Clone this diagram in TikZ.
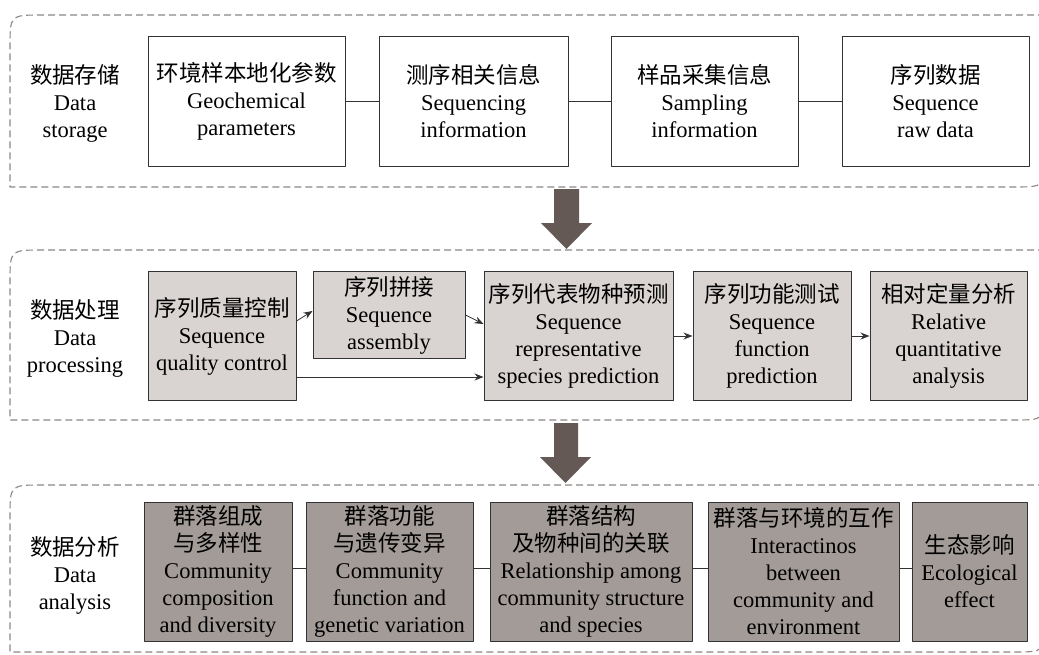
\documentclass[tikz,border=0pt]{standalone}
\usepackage{fontspec}
\setmainfont{Liberation Serif}
\newfontfamily\cjk{Noto Sans CJK SC}
\usetikzlibrary{arrows.meta}
\definecolor{panelgray}{HTML}{8E8585}
\definecolor{boxline}{HTML}{333333}
\definecolor{procfill}{HTML}{D9D3D1}
\definecolor{anafill}{HTML}{A39B98}
\definecolor{arrowfill}{HTML}{645954}

\begin{document}
\begin{tikzpicture}[x=1pt,y=-1pt,line join=round,
		every node/.style={font=\fontsize{22.5}{27}\selectfont,align=center,inner sep=0pt},
		panel/.style={draw=panelgray,line width=1.1pt,dash pattern=on 7pt off 4pt},
		storebox/.style={draw=boxline,line width=1pt,fill=white},
		procbox/.style={storebox,fill=procfill},
		anabox/.style={storebox,fill=anafill},
		link/.style={draw=boxline,line width=0.8pt},
		flow/.style={link,-{Stealth[length=9pt,width=7pt]}},
		bigarrow/.style={fill=arrowfill}]
	\useasboundingbox (0,0) rectangle (1039,654);
	\clip (0,0) rectangle (1039,654);
	% dashed stage panels
	\draw [panel] (1045,15) -- (42,15) .. controls (10,15) .. (10,47) -- (10,187) -- (1013,187) .. controls (1045,187) .. (1045,155);
	\draw [panel] (1045,250) -- (42,250) .. controls (10,250) .. (10,282) -- (10,420) -- (1013,420) .. controls (1045,420) .. (1045,388);
	\draw [panel] (1045,485) -- (42,485) .. controls (10,485) .. (10,517) -- (10,652) -- (1013,652) .. controls (1045,652) .. (1045,620);
	% big arrows between stages
	\fill [bigarrow] (554,189) -- (579,189) -- (579,223) -- (592,223) -- (566.5,249) -- (541,223) -- (554,223) -- cycle;
	\fill [bigarrow] (554,423) -- (578,423) -- (578,457) -- (591,457) -- (565.5,483) -- (540,457) -- (554,457) -- cycle;
	% data storage
	\node (storage) at (75,103) {{\cjk 数据存储}\\Data\\storage};
	\node [storebox,minimum width=197,minimum height=130] (geo) at (246.5,101) {{\cjk 环境样本地化参数}\\Geochemical\\parameters};
	\node [storebox,minimum width=189,minimum height=130] (seqinfo) at (473.5,101) {{\cjk 测序相关信息}\\Sequencing\\information};
	\node [storebox,minimum width=187,minimum height=130] (sampling) at (704.5,101) {{\cjk 样品采集信息}\\Sampling\\information};
	\node [storebox,minimum width=187,minimum height=130] (rawdata) at (935.5,101) {{\cjk 序列数据}\\Sequence\\raw data};
	\draw [link] (geo) -- (seqinfo);
	\draw [link] (seqinfo) -- (sampling);
	\draw [link] (sampling) -- (rawdata);
	% data processing
	\node (processing) at (75,338) {{\cjk 数据处理}\\Data\\processing};
	\node [procbox,minimum width=148,minimum height=129] (qc) at (222,336) {{\cjk 序列质量控制}\\Sequence\\quality control};
	\node [procbox,minimum width=152,minimum height=87] (asm) at (389,315) {{\cjk 序列拼接}\\Sequence\\assembly};
	\node [procbox,minimum width=189,minimum height=129] (pred) at (578.5,336) {{\cjk 序列代表物种预测}\\Sequence\\representative\\species prediction};
	\node [procbox,minimum width=158,minimum height=129] (func) at (772,336) {{\cjk 序列功能测试}\\Sequence\\function\\prediction};
	\node [procbox,minimum width=157,minimum height=129] (quant) at (948.5,336) {{\cjk 相对定量分析}\\Relative\\quantitative\\analysis};
	\draw [flow] ([yshift=15pt]qc.east) -- ([yshift=4pt]asm.west);
	\draw [flow] (asm.east) -- ([yshift=12pt]pred.west);
	\draw [flow] ([yshift=-41pt]qc.east) -- ([yshift=-41pt]pred.west);
	\draw [flow] (pred) -- (func);
	\draw [flow] (func) -- (quant);
	% data analysis
	\node (analysis) at (75,575) {{\cjk 数据分析}\\Data\\analysis};
	\node [anabox,minimum width=148,minimum height=139] (comp) at (218,571.5) {{\cjk 群落组成}\\{\cjk 与多样性}\\Community\\composition\\and diversity};
	\node [anabox,minimum width=167,minimum height=139] (gene) at (389.5,571.5) {{\cjk 群落功能}\\{\cjk 与遗传变异}\\Community\\function and\\genetic variation};
	\node [anabox,minimum width=202,minimum height=139] (struct) at (591,571.5) {{\cjk 群落结构}\\{\cjk 及物种间的关联}\\Relationship among\\community structure\\and species};
	\node [anabox,minimum width=191,minimum height=139] (envir) at (803.5,571.5) {{\cjk 群落与环境的互作}\\Interactinos\\between\\community and\\environment};
	\node [anabox,minimum width=115,minimum height=139] (eco) at (969.5,571.5) {{\cjk 生态影响}\\Ecological\\effect};
	\draw [link] ([yshift=3pt]comp.east) -- ([yshift=3pt]gene.west);
	\draw [link] ([yshift=3pt]gene.east) -- ([yshift=3pt]struct.west);
	\draw [link] ([yshift=3pt]struct.east) -- ([yshift=3pt]envir.west);
	\draw [link] ([yshift=3pt]envir.east) -- ([yshift=3pt]eco.west);
\end{tikzpicture}
\end{document}
